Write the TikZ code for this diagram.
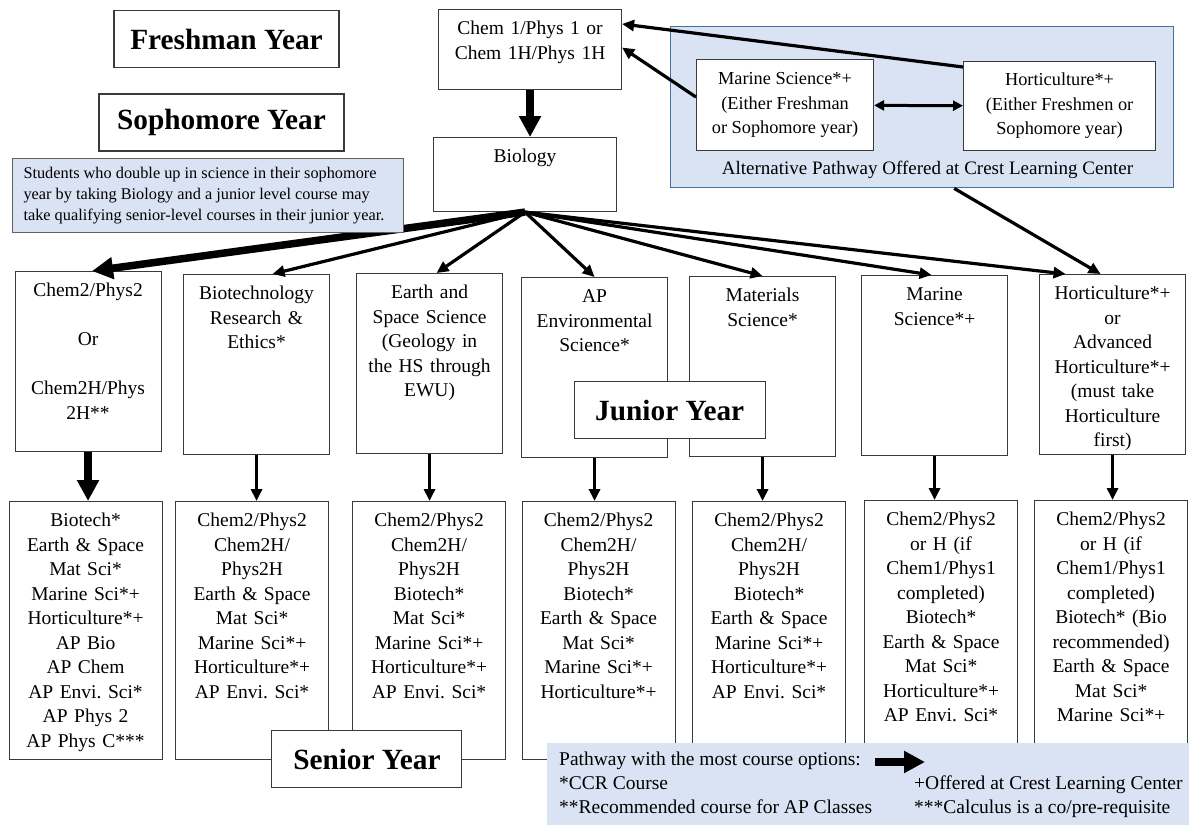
\documentclass[tikz,border=0pt]{standalone}
\usepackage{fontspec}
\setmainfont{Liberation Serif}
\usetikzlibrary{positioning,arrows.meta}
\definecolor{paleblue}{HTML}{DAE3F3}
\definecolor{altedge}{HTML}{41719C}
\definecolor{boxedge}{HTML}{3A3A3A}
\newcommand\colfont{\fontsize{19.5}{24.5}\selectfont}
\newcommand\altfont{\fontsize{18.3}{24.5}\selectfont}
\newcommand\notefont{\fontsize{16.3}{20.7}\selectfont}
\newcommand\legfont{\fontsize{19.5}{24}\selectfont}
\newcommand\yearfont{\fontsize{29.3}{34}\selectfont\bfseries}
\frenchspacing

\begin{document}
\begin{tikzpicture}[x=1pt, y=-1pt
		,bx/.style={draw=boxedge, line width=1.1pt, fill=white, inner sep=0pt}
		,jc/.style={bx, anchor=north west, minimum width=146pt, minimum height=180pt}
		,sc/.style={bx, anchor=north west, minimum width=153pt, minimum height=258pt}
		,ct/.style={anchor=north, text width=#1, align=center, font=\colfont, inner sep=0pt, yshift=-8.5pt, execute at begin node=\strut}
		,ct/.default=140pt
		,yr/.style={bx, font=\yearfont, minimum width=#1, minimum height=57pt}
		,pale/.style={fill=paleblue, inner sep=0pt}
		,ar/.style={-{Triangle[length=12pt,width=11pt]}, line width=3.2pt}
		,fat/.style={-{Triangle[length=21pt,width=21pt]}, line width=7.5pt}
		,dbl/.style={{Triangle[length=10pt,width=10pt]}-{Triangle[length=10pt,width=10pt]}, line width=3pt}
	]
	\useasboundingbox (0,0) rectangle (1189,825);

	% freshman and sophomore
	\node[yr=225pt] (fy) at (226.5,39) {Freshman Year};
	\node[yr=245pt] (sy) at (221.5,122.5) {Sophomore Year};
	\node[bx, anchor=north west, minimum width=183pt, minimum height=80pt] (chem) at (438,9) {};
	\node[ct=178pt] (chemT) at (chem.north) {Chem 1/Phys 1 or\\Chem 1H/Phys 1H};
	\node[bx, anchor=north west, minimum width=183pt, minimum height=74pt] (bio) at (433,137) {};
	\node[ct] (bioT) at (bio.north) {Biology};
	\draw[fat] (chem.south) -- (chem.south |- bio.north);

	% crest pathway
	\node[pale, draw=altedge, line width=1.4pt, anchor=north west, minimum width=503pt, minimum height=161pt] (alt) at (670,26) {};
	\node[bx, font=\altfont, align=center, anchor=north west, minimum width=177pt, minimum height=91pt] (marA) at (696,59) {Marine Science*+\\(Either Freshman\\or Sophomore year)};
	\node[bx, font=\altfont, align=center, anchor=north west, minimum width=192pt, minimum height=89pt] (horA) at (963,61) {Horticulture*+\\(Either Freshmen or\\Sophomore year)};
	\node[font=\fontsize{19}{24}\selectfont] (altL) at (927.5,170) {Alternative Pathway Offered at Crest Learning Center};
	\draw[dbl] (marA) -- (horA);
	\draw[ar] ([yshift=-6pt]horA.north west) -- ([yshift=-15pt]chem.north east);
	\draw[ar] ([yshift=8pt]marA.west) -- ([yshift=2pt]chem.east);

	% junior year
	\node[jc] (j1) at (14.5,271) {};
	\node[jc] (j2) at (183,274) {};
	\node[jc] (j3) at (356,273) {};
	\node[jc] (j4) at (521,277) {};
	\node[jc] (j5) at (689,276) {};
	\node[jc] (j6) at (861,275) {};
	\node[jc] (j7) at (1039,274) {};
	\node[ct] (j1T) at (j1.north) {Chem2/Phys2\\[24.5pt]Or\\[24.5pt]Chem2H/Phys\\2H**};
	\node[ct] (j2T) at (j2.north) {Biotechnology\\Research \&\\Ethics*};
	\node[ct] (j3T) at (j3.north) {Earth and\\Space Science\\(Geology in\\the HS through\\EWU)};
	\node[ct] (j4T) at (j4.north) {AP\\Environmental\\Science*};
	\node[ct] (j5T) at (j5.north) {Materials\\Science*};
	\node[ct] (j6T) at (j6.north) {Marine\\Science*+};
	\node[ct] (j7T) at (j7.north) {Horticulture*+\\or\\Advanced\\Horticulture*+\\(must take\\Horticulture\\first)};

	% senior year
	\node[sc] (s1) at (8.5,501) {};
	\node[sc] (s2) at (175,501) {};
	\node[sc] (s3) at (352,501) {};
	\node[sc] (s4) at (521.5,501) {};
	\node[sc] (s5) at (692,501) {};
	\node[sc] (s6) at (864,500) {};
	\node[sc] (s7) at (1034,500) {};
	\node[ct] (s1T) at (s1.north) {Biotech*\\Earth \& Space\\Mat Sci*\\Marine Sci*+\\Horticulture*+\\AP Bio\\AP Chem\\AP Envi. Sci*\\AP Phys 2\\AP Phys C***};
	\node[ct] (s2T) at (s2.north) {Chem2/Phys2\\Chem2H/\\Phys2H\\Earth \& Space\\Mat Sci*\\Marine Sci*+\\Horticulture*+\\AP Envi. Sci*};
	\node[ct] (s3T) at (s3.north) {Chem2/Phys2\\Chem2H/\\Phys2H\\Biotech*\\Mat Sci*\\Marine Sci*+\\Horticulture*+\\AP Envi. Sci*};
	\node[ct] (s4T) at (s4.north) {Chem2/Phys2\\Chem2H/\\Phys2H\\Biotech*\\Earth \& Space\\Mat Sci*\\Marine Sci*+\\Horticulture*+};
	\node[ct] (s5T) at (s5.north) {Chem2/Phys2\\Chem2H/\\Phys2H\\Biotech*\\Earth \& Space\\Marine Sci*+\\Horticulture*+\\AP Envi. Sci*};
	\node[ct] (s6T) at (s6.north) {Chem2/Phys2\\or H (if\\Chem1/Phys1\\completed)\\Biotech*\\Earth \& Space\\Mat Sci*\\Horticulture*+\\AP Envi. Sci*};
	\node[ct] (s7T) at (s7.north) {Chem2/Phys2\\or H (if\\Chem1/Phys1\\completed)\\Biotech* (Bio\\recommended)\\Earth \& Space\\Mat Sci*\\Marine Sci*+};

	% arrows out of biology
	\draw[fat] (bio.south) -- ([xshift=4pt]j1.north);
	\draw[ar] (bio.south) -- ([xshift=16pt]j2.north);
	\draw[ar] (bio.south) -- ([xshift=7pt]j3.north);
	\draw[ar] (bio.south) -- (j4.north);
	\draw[ar] (bio.south) -- (j5.north);
	\draw[ar] (bio.south) -- ([xshift=-3pt]j6.north);
	\draw[ar] (bio.south) -- ([xshift=-47pt]j7.north);
	\draw[ar] ([xshift=32pt]alt.south) -- ([xshift=-12pt]j7.north);

	% junior to senior
	\draw[fat] (j1.south) -- (j1.south |- s1.north);
	\draw[ar] (j2.south) -- (j2.south |- s2.north);
	\draw[ar] (j3.south) -- (j3.south |- s3.north);
	\draw[ar] (j4.south) -- (j4.south |- s4.north);
	\draw[ar] (j5.south) -- (j5.south |- s5.north);
	\draw[ar] (j6.south) -- (j6.south |- s6.north);
	\draw[ar] (j7.south) -- (j7.south |- s7.north);

	\node[pale, draw=boxedge!80, line width=1.1pt, anchor=north west, minimum width=391pt, minimum height=74pt] (note) at (12,158) {};
	\node[font=\notefont, align=left, anchor=west, inner sep=0pt] (noteT) at ([xshift=11.3pt]note.west) {Students who double up in science in their sophomore\\year by taking Biology and a junior level course may\\take qualifying senior-level courses in their junior year.};
	\node[yr=191pt] (jy) at (669.7,410.3) {Junior Year};
	\node[yr=190pt] (ny) at (366.9,759.3) {Senior Year};

	% key
	\node[pale, anchor=north west, minimum width=642pt, minimum height=82pt] (leg) at (547,743) {};
	\node[font=\legfont, align=left, anchor=north west, inner sep=0pt, execute at begin node=\strut] (legL) at (559,751.7) {Pathway with the most course options:\\{*}CCR Course\\{**}Recommended course for AP Classes};
	\node[font=\legfont, align=left, anchor=north west, inner sep=0pt, execute at begin node=\strut] (legR) at (914,775.7) {+Offered at Crest Learning Center\\{***}Calculus is a co/pre-requisite};
	\coordinate (legA) at (875,762);
	\coordinate (legB) at (925,762);
	\draw[fat] (legA) -- (legB);
\end{tikzpicture}
\end{document}
